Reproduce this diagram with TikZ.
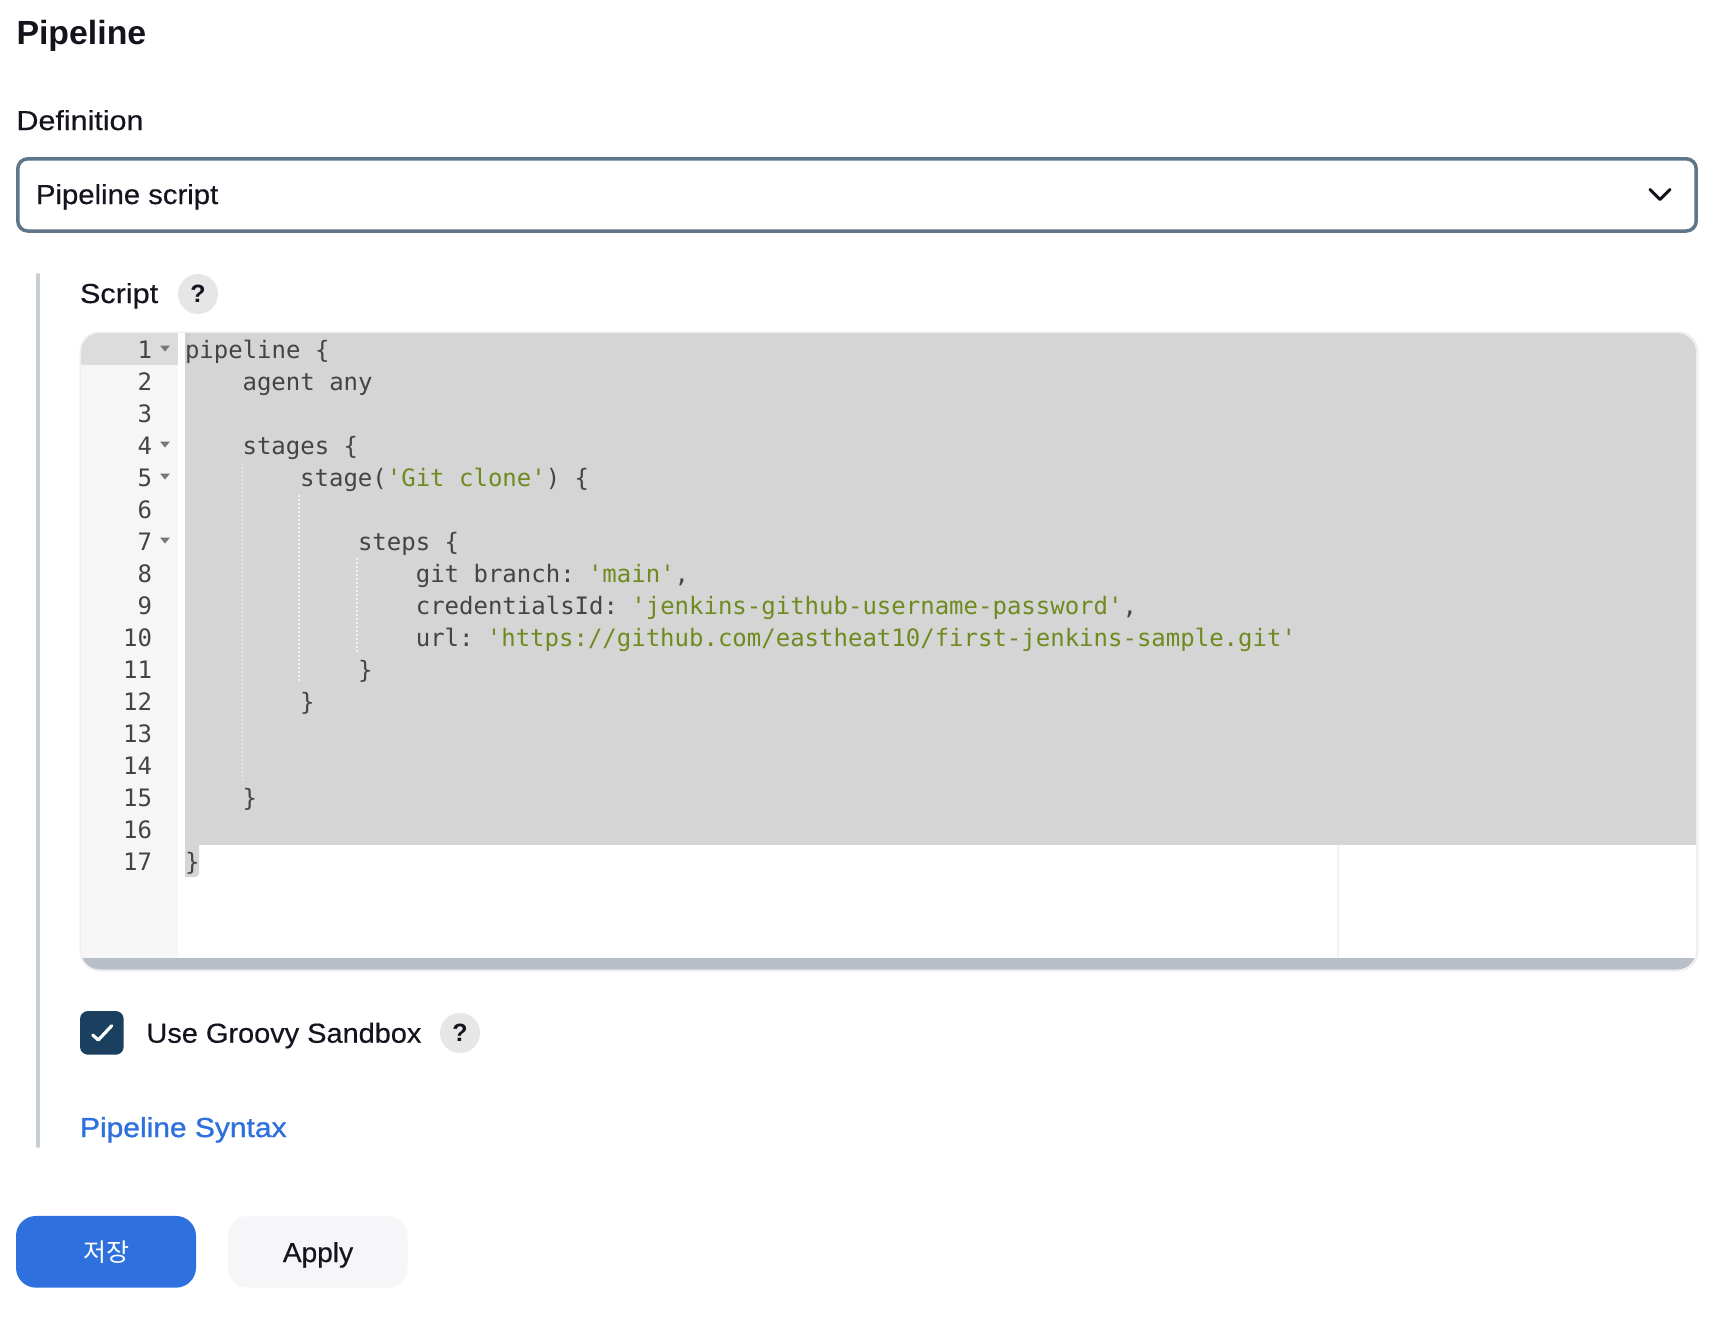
\documentclass[tikz,border=0pt]{standalone}
\usepackage{fontspec}
\setmainfont[FakeStretch=1.07,FakeBold=0.4]{Liberation Sans}
\newfontfamily\headf[BoldFont={Liberation Sans Bold}]{Liberation Sans}
\newfontfamily\linkf[FakeStretch=1.09,FakeBold=1]{Liberation Sans}
\newfontfamily\codefont{DejaVu Sans Mono}
\newfontfamily\krfont{Noto Sans CJK KR}
\definecolor{ink}{HTML}{14141F}
\definecolor{ddborder}{HTML}{5F7688}
\definecolor{barcol}{HTML}{C6CDD3}
\definecolor{helpbg}{HTML}{E6E6E6}
\definecolor{edborder}{HTML}{F0F0F4}
\definecolor{gutter}{HTML}{F6F6F6}
\definecolor{gutactive}{HTML}{DCDCDC}
\definecolor{selcol}{HTML}{D5D5D5}
\definecolor{selcur}{HTML}{CFCFCF}
\definecolor{scrollcol}{HTML}{B8BFC6}
\definecolor{marginc}{HTML}{F2F2F2}
\definecolor{codecol}{HTML}{444444}
\definecolor{strcol}{HTML}{6F8A1E}
\definecolor{fold}{HTML}{777777}
\definecolor{guide}{HTML}{EFEFEF}
\definecolor{chkcol}{HTML}{1B3F5F}
\definecolor{primary}{HTML}{2E71DE}
\definecolor{applybg}{HTML}{F6F6F8}
\newcommand{\str}[1]{\textcolor{strcol}{#1}}
\newcommand{\sxx}[2]{\scalebox{#1}[1]{#2}}
\tikzset{
  txt/.style={anchor=base west,inner sep=0pt,outer sep=0pt,text=ink},
  uifont/.style={font=\fontsize{27.5}{27.5}\selectfont},
  code/.style={anchor=base west,inner sep=0pt,outer sep=0pt,text=codecol,font=\codefont\fontsize{24}{24}\selectfont},
  lnum/.style={anchor=base east,inner sep=0pt,outer sep=0pt,text=codecol,font=\codefont\fontsize{24}{24}\selectfont},
  help/.style={circle,fill=helpbg,minimum size=40pt,inner sep=0pt,text=ink,font=\headf\bfseries\fontsize{25}{25}\selectfont},
  foldtri/.style={fill=fold,draw=none},
  indentg/.style={draw=guide,line width=1.5pt,dash pattern=on 2pt off 2pt},
  btn/.style={rounded corners=20pt,minimum height=71.7pt,inner sep=0pt},
}
\begin{document}
\begin{tikzpicture}[x=1pt,y=-1pt]
\useasboundingbox (0,0) rectangle (1734,1326);
\fill[white] (0,0) rectangle (1734,1326);
% headings
\node[txt,font=\headf\bfseries\fontsize{33.5}{33.5}\selectfont] (title) at (16.5,44.5) {\sxx{1.01}{Pipeline}};
\node[txt,uifont] (deflabel) at (16.5,130) {\sxx{1.035}{Definition}};
% dropdown
\draw[ddborder,line width=3.5pt,rounded corners=10pt,fill=white] (17.8,158.8) rectangle (1696.2,231);
\node[txt,uifont] (ddtext) at (36,204) {\sxx{.995}{Pipeline script}};
\draw[ink,line width=3pt,line cap=round,line join=round] (1650,189.5) -- (1660,199.5) -- (1670,189.5);
% left bar
\draw[barcol,line width=4pt,line cap=round] (38,275) -- (38,1146);
% script label
\node[txt,uifont] (scriptlabel) at (80,303) {\sxx{1.04}{Script}};
\node[help] (help1) at (198,294) {?};
% editor
\fill[edborder,rounded corners=20pt] (79.5,331.5) rectangle (1698.5,971.5);
\begin{scope}
\clip[rounded corners=19pt] (81,333) rectangle (1696,969.5);
\fill[white] (81,333) rectangle (1696,969.5);
\fill[gutter] (81,333) rectangle (177.7,958);
\fill[gutactive] (81,333) rectangle (177.7,365);
\fill[selcol] (185,333) rectangle (1696,845);
\fill[selcur] (185,333) rectangle (189.5,365);
\fill[marginc] (1337.3,845) rectangle (1339,958);
\fill[scrollcol] (81,958) rectangle (1696,969.5);
\end{scope}
\fill[selcol,rounded corners=4pt] (185,840) rectangle (199,877);
\fill[selcol] (185,840) rectangle (199,848);
\fill[selcol] (185,870) rectangle (190,877);
% indent guides
\coordinate (g1a) at (242.3,463);
\coordinate (g1b) at (242.3,783);
\coordinate (g2a) at (299,495);
\coordinate (g2b) at (299,683);
\coordinate (g3a) at (357,558);
\coordinate (g3b) at (357,652);
\draw[indentg] (g1a) -- (g1b);
\draw[indentg] (g2a) -- (g2b);
\draw[indentg] (g3a) -- (g3b);
% line numbers
\foreach \n in {1,...,17}{
  \pgfmathsetmacro{\yy}{358+32*(\n-1)}
  \node[lnum] (num\n) at (152,\yy) {\n};
}
% fold marks
\foreach \n in {1,4,5,7}{
  \pgfmathsetmacro{\yy}{358+32*(\n-1)}
  \fill[foldtri] (160,\yy-12.5) -- (170,\yy-12.5) -- (165,\yy-6.5) -- cycle;
}
% code
\node[code] (c1) at (185,358) {pipeline \{};
\node[code] (c2) at (242.6,390) {agent any};
\node[code] (c4) at (242.6,454) {stages \{};
\node[code] (c5) at (300.2,486) {stage(\str{'Git clone'}) \{};
\node[code] (c7) at (358,550) {steps \{};
\node[code] (c8) at (415.8,582) {git branch:\hspace{-6pt} \str{'main'},};
\node[code] (c9) at (415.8,614) {credentialsId:\hspace{-6pt} \str{'jenkins-github-username-password'},};
\node[code] (c10) at (415.8,646) {url:\hspace{-6pt} \str{'https://github.com/eastheat10/first-jenkins-sample.git'}};
\node[code] (c11) at (358,678) {\}};
\node[code] (c12) at (300.2,710) {\}};
\node[code] (c15) at (242.6,806) {\}};
\node[code] (c17) at (185,870) {\}};
% checkbox
\fill[chkcol,rounded corners=8pt] (80,1011) rectangle (123.7,1054.7);
\draw[white,line width=3.2pt,line cap=round,line join=round] (92.7,1035) -- (98.3,1040) -- (111.7,1025.7);
\node[txt,uifont] (sandbox) at (146.5,1042.7) {\sxx{.983}{Use Groovy Sandbox}};
\node[help] (help2) at (460,1033) {?};
% link
\node[txt,text=primary,font=\linkf\fontsize{27.5}{27.5}\selectfont] (link) at (80,1137) {Pipeline Syntax};
% buttons
\node[btn,fill=primary,minimum width=180pt,text=white,font=\krfont\fontsize{25}{25}\selectfont] (save) at (106,1251.8) {저장};
\node[btn,fill=applybg,minimum width=179.6pt] (apply) at (317.8,1251.8) {};
\node[anchor=base,inner sep=0pt,text=ink,uifont] (applylabel) at (318,1262) {\sxx{.955}{Apply}};
\end{tikzpicture}
\end{document}
